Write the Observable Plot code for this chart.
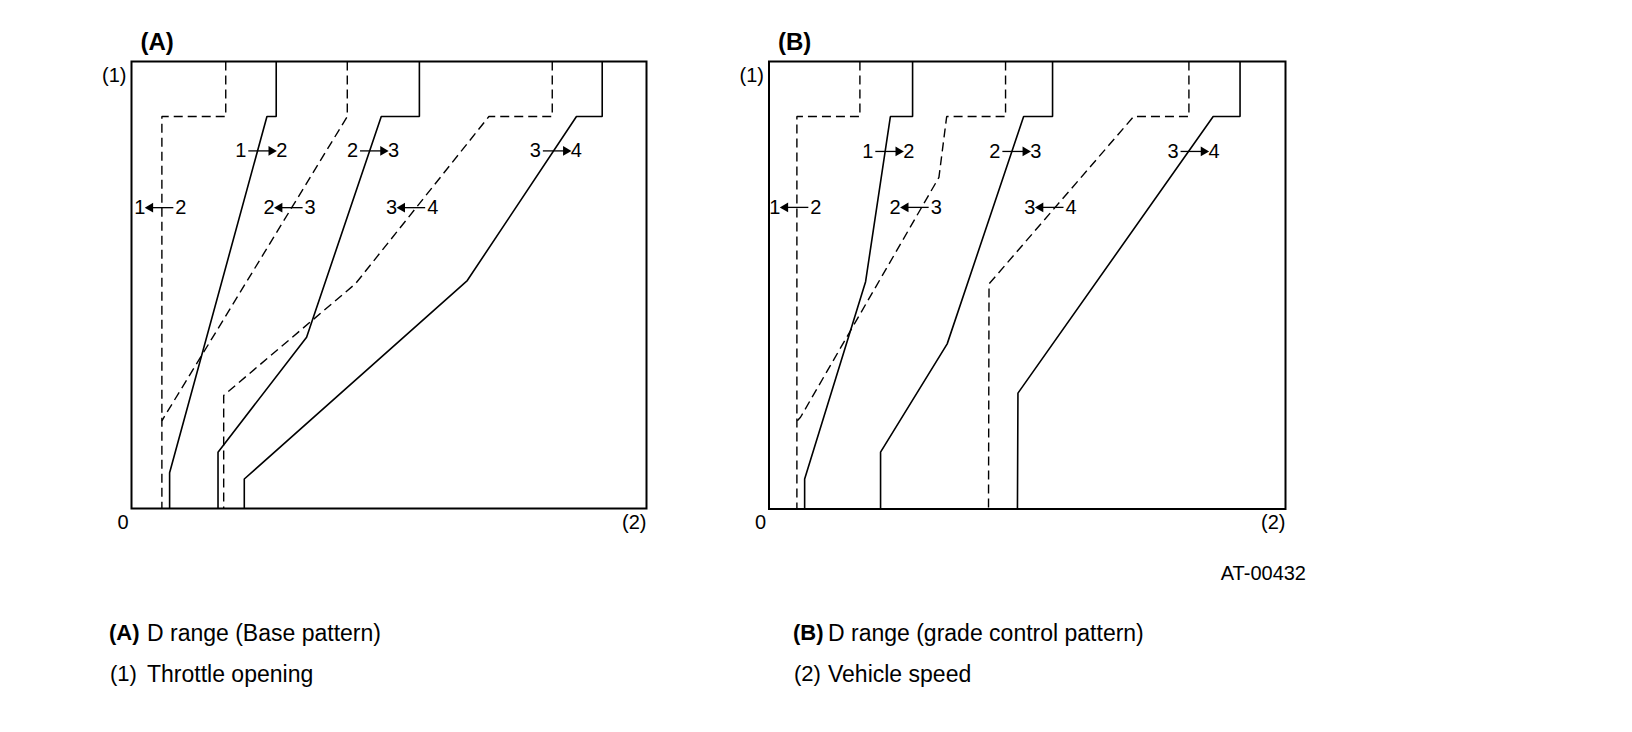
<!DOCTYPE html>
<html>
<head>
<meta charset="utf-8">
<script src="https://cdn.jsdelivr.net/npm/d3@7"></script>
<script src="https://cdn.jsdelivr.net/npm/@observablehq/plot@0.6"></script>
<style>
  html, body { margin: 0; padding: 0; background: #fff; }
  #page { position: relative; width: 1632px; height: 732px; overflow: hidden; font-family: "Liberation Sans", Arial, Helvetica, sans-serif; color: #000; }
  .panel { position: absolute; top: 0; }
  .t { position: absolute; font-size: 23px; line-height: 26px; white-space: nowrap; }
  .b { font-weight: bold; }
</style>
</head>
<body>
<div id="page">
  <div id="panelA" class="panel" style="left:0px"></div>
  <div id="panelB" class="panel" style="left:640px"></div>
</div>
<script>
// ---------- Data (x: vehicle speed 0-100, y: throttle opening 0-100) ----------
// Panel A: D range (Base pattern)
const a_up12   = [[28.1,100],[28.1,87.7],[26.3,87.7],[7.4,8.0],[7.4,0]];
const a_down12 = [[18.3,100],[18.3,87.7],[5.9,87.7],[5.9,0]];
const a_up23   = [[55.9,100],[55.9,87.7],[48.5,87.7],[34.0,38.3],[16.8,12.6],[16.8,0]];
const a_down23 = [[41.9,100],[41.9,87.7],[6.3,20.4],[5.9,19.6]];
const a_up34   = [[91.4,100],[91.4,87.7],[86.4,87.7],[65.2,51.0],[21.9,6.6],[21.9,0]];
const a_down34 = [[81.7,100],[81.7,87.7],[69.4,87.7],[43.5,50.3],[17.9,25.3],[17.9,0]];

// Panel B: D range (grade control pattern)
const b_up12   = [[27.8,100],[27.8,87.7],[23.5,87.7],[18.7,50.8],[6.9,6.7],[6.9,0]];
const b_down12 = [[17.6,100],[17.6,87.7],[5.4,87.7],[5.4,0]];
const b_up23   = [[54.9,100],[54.9,87.7],[49.3,87.7],[34.5,36.9],[21.6,12.7],[21.6,0]];
const b_down23 = [[45.8,100],[45.8,87.7],[34.4,87.7],[32.9,74.1],[6.1,20.5],[5.4,19.6]];
const b_up34   = [[91.2,100],[91.2,87.7],[86.0,87.7],[48.2,25.9],[48.1,0]];
const b_down34 = [[81.3,100],[81.3,87.7],[70.6,87.7],[42.6,50.3],[42.5,0]];

// Shift labels: from gear, to gear, direction (up = solid upshift, down = dashed downshift)
const labelFrom = [1, 2, 3, 1, 2, 3];
const labelTo   = [2, 3, 4, 2, 3, 4];
const labelDir  = ["up", "up", "up", "down", "down", "down"];
const labelXA = [25.2, 46.9, 82.4, 5.6, 30.7, 54.5];
const labelYA = [80.0, 80.0, 80.0, 67.3, 67.3, 67.3];
const labelXB = [23.1, 47.7, 82.2, 5.1, 28.4, 54.5];
const labelYB = [79.9, 79.9, 79.9, 67.4, 67.4, 67.4];

const panelTitles = ["(A)", "(B)"];
const axisLabelY = "(1)";
const axisLabelX = "(2)";
const originLabel = "0";

const legendKeys  = ["(A)", "(1)", "(B)", "(2)"];
const legendTexts = ["D range (Base pattern)", "Throttle opening", "D range (grade control pattern)", "Vehicle speed"];
const figureId = "AT-00432";

// ---------- Drawing ----------
const FONT = "Liberation Sans, Arial, Helvetica, sans-serif";
const W = 700, H = 560;
function lineMark(pts, dashed) {
  return Plot.line(pts, {
    x: d => d[0], y: d => d[1],
    stroke: "#000",
    strokeWidth: dashed ? 1.4 : 1.6,
    strokeDasharray: dashed ? "9,5" : null,
    strokeLinejoin: "miter",
    strokeLinecap: "butt"
  });
}

function buildPanel(curves, lx, ly, title, margins) {
  const k = 100 / (W - margins[0] - margins[1]); // data units per pixel, for label arrow shafts
  const labels = labelFrom.map((f, i) => ({f: String(f), t: String(labelTo[i]), dir: labelDir[i], x: lx[i], y: ly[i]}));
  const ups = labels.filter(d => d.dir === "up");
  const downs = labels.filter(d => d.dir === "down");
  return Plot.plot({
    width: W, height: H,
    marginLeft: margins[0], marginRight: margins[1], marginTop: margins[2], marginBottom: margins[3],
    style: {fontFamily: FONT, background: "transparent", overflow: "visible"},
    x: {domain: [0, 100], axis: null},
    y: {domain: [0, 100], axis: null},
    marks: [
      Plot.frame({stroke: "#000", strokeWidth: 2}),
      ...curves.map(c => lineMark(c.pts, c.dashed)),
      Plot.text(labels, {x: "x", y: "y", text: "f", textAnchor: "end", lineAnchor: "middle", dx: -15, fontSize: 20, fill: "#000"}),
      Plot.text(labels, {x: "x", y: "y", text: "t", textAnchor: "start", lineAnchor: "middle", dx: 15, fontSize: 20, fill: "#000"}),
      Plot.link(labels, {x1: d => d.x - 13 * k, x2: d => d.x + 13 * k, y1: "y", y2: "y", stroke: "#000", strokeWidth: 1.3}),
      Plot.dot(ups, {x: "x", y: "y", dx: 10, symbol: "triangle", r: 3.6, fill: "#000", stroke: null, rotate: 90}),
      Plot.dot(downs, {x: "x", y: "y", dx: -10, symbol: "triangle", r: 3.6, fill: "#000", stroke: null, rotate: -90}),
      Plot.text([title], {frameAnchor: "top-left", textAnchor: "start", lineAnchor: "middle", dx: 9, dy: -19, fontSize: 24, fontWeight: "bold", fill: "#000"}),
      Plot.text([axisLabelY], {frameAnchor: "top-left", textAnchor: "end", lineAnchor: "middle", dx: -5, dy: 14, fontSize: 20, fill: "#000"}),
      Plot.text([originLabel], {frameAnchor: "bottom-left", textAnchor: "end", lineAnchor: "middle", dx: -3, dy: 14, fontSize: 20, fill: "#000"}),
      Plot.text([axisLabelX], {frameAnchor: "bottom-right", textAnchor: "end", lineAnchor: "middle", dx: 0, dy: 14, fontSize: 20, fill: "#000"})
    ]
  });
}

document.getElementById("panelA").appendChild(buildPanel([
  {pts: a_up12, dashed: false}, {pts: a_down12, dashed: true},
  {pts: a_up23, dashed: false}, {pts: a_down23, dashed: true},
  {pts: a_up34, dashed: false}, {pts: a_down34, dashed: true}
], labelXA, labelYA, panelTitles[0], [131, 54, 61, 52]));

document.getElementById("panelB").appendChild(buildPanel([
  {pts: b_up12, dashed: false}, {pts: b_down12, dashed: true},
  {pts: b_up23, dashed: false}, {pts: b_down23, dashed: true},
  {pts: b_up34, dashed: false}, {pts: b_down34, dashed: true}
], labelXB, labelYB, panelTitles[1], [128.5, 55, 61, 51.5]));

// Figure id and legend (HTML text below the plots)
const page = document.getElementById("page");
function addText(txt, left, top, bold, anchorRight, size) {
  const d = document.createElement("div");
  d.className = "t" + (bold ? " b" : "");
  d.textContent = txt;
  if (size) d.style.fontSize = size + "px";
  if (anchorRight) { d.style.right = (1632 - left) + "px"; } else { d.style.left = left + "px"; }
  d.style.top = top + "px";
  page.appendChild(d);
}
addText(figureId, 1306, 560, false, true, 20);
const keyX = [109, 110, 793, 794], textX = [147, 147, 828, 828], rowY = [620, 661, 620, 661];
legendKeys.forEach((k, i) => {
  addText(k, keyX[i], rowY[i], k === "(A)" || k === "(B)", false, 22);
  addText(legendTexts[i], textX[i], rowY[i], false, false);
});
</script>
</body>
</html>
